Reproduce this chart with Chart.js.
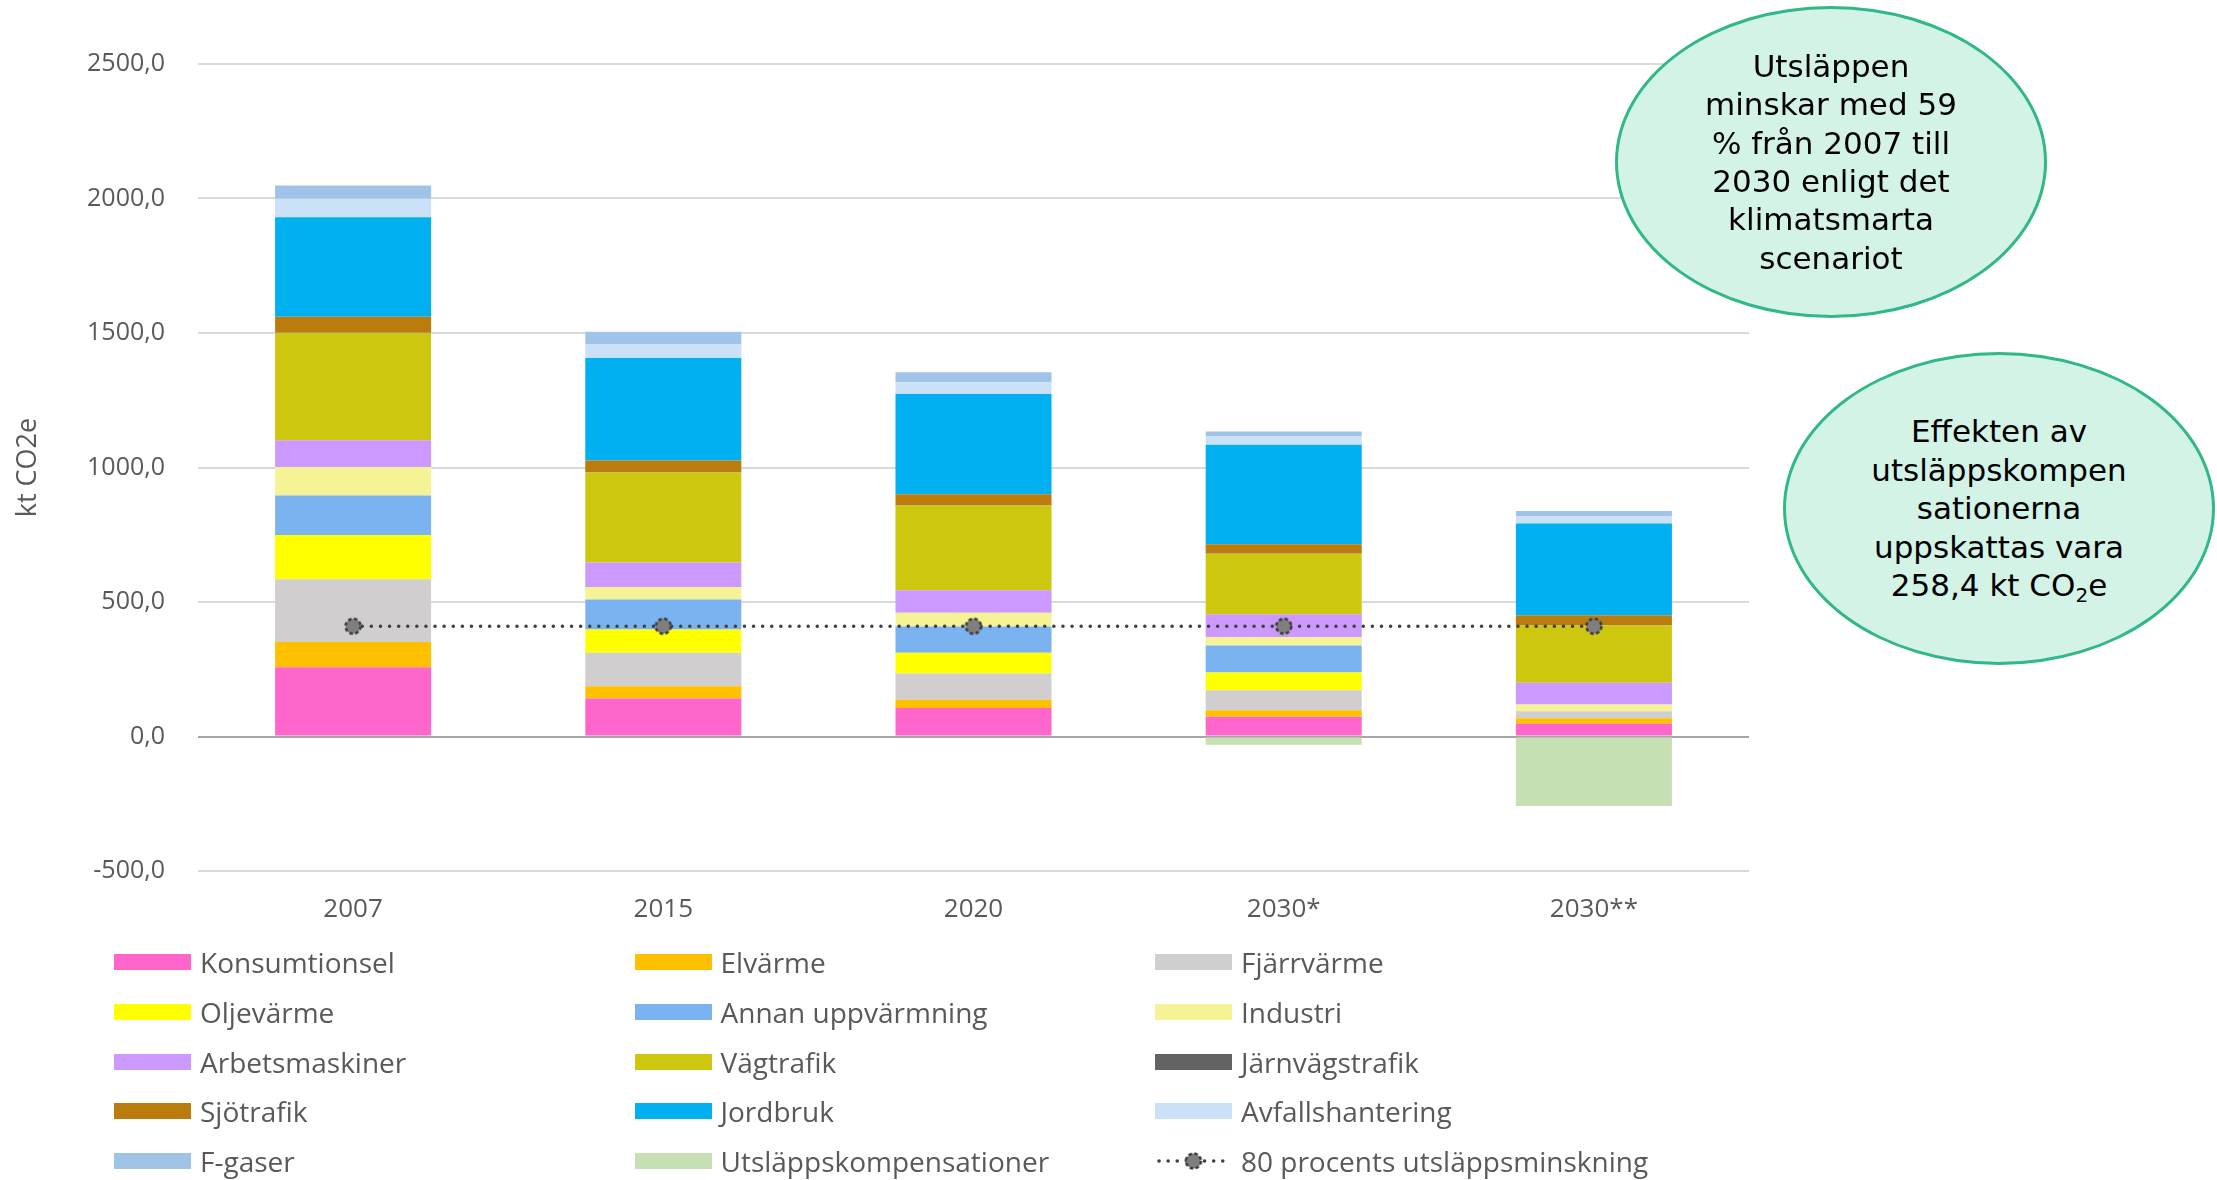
<!DOCTYPE html>
<html lang="sv">
<head>
<meta charset="utf-8">
<title>Utsläpp kt CO2e</title>
<script src="https://cdn.jsdelivr.net/npm/chart.js@4.4.1/dist/chart.umd.min.js"></script>
<style>
  html, body { margin: 0; padding: 0; background: #ffffff; }
  #wrap { position: relative; width: 2217px; height: 1180px; overflow: hidden; background: #fff; }
  #chartBox { position: absolute; left: 0; top: 0; width: 2217px; height: 1180px; }
  .ell { position: absolute; box-sizing: border-box; border: 3px solid #31b886; background: #d3f3e7;
         border-radius: 50%; display: flex; align-items: center; justify-content: center;
         text-align: center; font-family: "DejaVu Sans", Verdana, sans-serif; font-size: 31px;
         line-height: 38.4px; color: #000; }
  .ell sub { font-size: 20px; line-height: 0; vertical-align: -0.3em; }
  .lg { position: absolute; height: 40px; display: flex; align-items: center; white-space: nowrap;
        font-family: "Open Sans", sans-serif; font-size: 28px; color: #595959; }
  .sw { width: 77px; height: 16px; margin-right: 9px; flex: none; }
  .lg canvas { margin-right: 9px; flex: none; }
</style>
</head>
<body>
<div id="wrap">
  <div id="chartBox"><canvas id="c"></canvas></div>
  <div class="ell" style="left:1615px;top:6px;width:432px;height:312px;">
    <div>Utsläppen<br>minskar med 59<br>% från 2007 till<br>2030 enligt det<br>klimatsmarta<br>scenariot</div>
  </div>
  <div class="ell" style="left:1783px;top:352px;width:432px;height:313px;">
    <div>Effekten av<br>utsläppskompen<br>sationerna<br>uppskattas vara<br>258,4 kt CO<sub>2</sub>e</div>
  </div>
  <div id="legend"></div>
</div>
<script>
// ---- Data ----
const categories = ['2007', '2015', '2020', '2030*', '2030**'];
const konsumtionsel    = [257, 141, 106, 73, 47];
const elvarme          = [94, 46, 31, 25, 21];
const fjarrvarme       = [234, 124, 97, 74, 26];
const oljevarme        = [164, 87, 77, 66, 0];
const annanUppvarmning = [147, 111, 98, 100, 0];
const industri         = [106, 47, 51, 32, 25];
const arbetsmaskiner   = [99, 91, 84, 84, 81];
const vagtrafik        = [400, 334, 315, 225, 213];
const jarnvagstrafik   = [2, 1, 1, 1, 1];
const sjotrafik        = [57, 44, 41, 35, 37];
const jordbruk         = [370, 381, 372, 370, 341];
const avfallshantering = [69, 52, 44, 30, 26];
const fgaser           = [49, 46, 37, 19, 20];
const kompensationer   = [0, 0, 0, -31, -258.4];
const mal80            = [410, 410, 410, 410, 410];
const yTicks           = [-500, 0, 500, 1000, 1500, 2000, 2500];

const barSeries = [
  ['Konsumtionsel', konsumtionsel, '#ff66cc'],
  ['Elvärme', elvarme, '#ffc000'],
  ['Fjärrvärme', fjarrvarme, '#d0cece'],
  ['Oljevärme', oljevarme, '#ffff00'],
  ['Annan uppvärmning', annanUppvarmning, '#7ab3ef'],
  ['Industri', industri, '#f6f396'],
  ['Arbetsmaskiner', arbetsmaskiner, '#cc99ff'],
  ['Vägtrafik', vagtrafik, '#cec710'],
  ['Järnvägstrafik', jarnvagstrafik, '#636363'],
  ['Sjötrafik', sjotrafik, '#bb7b0d'],
  ['Jordbruk', jordbruk, '#00b0f0'],
  ['Avfallshantering', avfallshantering, '#cae1f8'],
  ['F-gaser', fgaser, '#a0c4e8'],
  ['Utsläppskompensationer', kompensationer, '#c6e0b4']
];
const lineLabel = '80 procents utsläppsminskning';

// marker image
function makeMarker() {
  const m = document.createElement('canvas');
  m.width = 22; m.height = 22;
  const g = m.getContext('2d');
  g.beginPath(); g.arc(11, 11, 7.5, 0, Math.PI * 2);
  g.fillStyle = '#7f7f7f'; g.fill();
  g.setLineDash([3.5, 2.5]); g.lineWidth = 2.5; g.strokeStyle = '#3a3a3a'; g.stroke();
  return m;
}
const marker = makeMarker();

const datasets = barSeries.map(([label, data, color]) => ({
  type: 'bar', label, data, backgroundColor: color, borderWidth: 0, stack: 'main', order: 1
}));
datasets.push({
  type: 'line', label: lineLabel, data: mal80, stack: 'target', order: 0,
  borderColor: '#404040', borderWidth: 3.5, borderDash: [0.1, 9], borderCapStyle: 'round',
  pointStyle: marker, pointRadius: 9, fill: false, tension: 0
});

const tickColor = '#595959';
new Chart(document.getElementById('c'), {
  data: { labels: categories, datasets },
  options: {
    responsive: true, maintainAspectRatio: false, animation: false,
    layout: { padding: { top: 64, right: 468, bottom: 249, left: 0 } },
    datasets: { bar: { categoryPercentage: 1.0, barPercentage: 0.503 } },
    plugins: { legend: { display: false }, tooltip: { enabled: true } },
    scales: {
      x: {
        stacked: true,
        grid: { display: false, drawTicks: false },
        border: { display: false },
        ticks: { color: tickColor, font: { family: 'Open Sans', size: 26 }, padding: 23 },
        afterFit: s => { s.height = 60; }
      },
      y: {
        stacked: true, min: -500, max: 2500,
        afterBuildTicks: s => { s.ticks = yTicks.map(v => ({ value: v })); },
        grid: {
          drawTicks: false, lineWidth: 2,
          color: c => (c.tick && c.tick.value === 0) ? '#a6a6a6' : '#d9d9d9'
        },
        border: { display: false },
        ticks: {
          color: tickColor, font: { family: 'Open Sans', size: 25 }, padding: 33,
          callback: v => v.toFixed(1).replace('.', ',')
        },
        title: {
          display: true, text: 'kt CO2e', color: tickColor,
          font: { family: 'Open Sans', size: 27 }, padding: { top: 12, bottom: 0 }
        },
        afterFit: s => { s.width = 198; }
      }
    }
  }
});

// ---- HTML legend (3 columns) ----
const legend = document.getElementById('legend');
const items = barSeries.map(([label, , color]) => ({ label, color })).concat([{ label: lineLabel, line: true }]);
items.forEach((it, i) => {
  const col = i % 3, row = Math.floor(i / 3);
  const d = document.createElement('div');
  d.className = 'lg';
  d.style.left = (114 + col * 520.5) + 'px';
  d.style.top = (962 + row * 49.8 - 20) + 'px';
  if (it.line) {
    const cv = document.createElement('canvas');
    cv.width = 77; cv.height = 22;
    const g = cv.getContext('2d');
    g.strokeStyle = '#404040'; g.lineWidth = 3.5; g.lineCap = 'round'; g.setLineDash([0.1, 9]);
    g.beginPath(); g.moveTo(4, 11); g.lineTo(73, 11); g.stroke();
    g.setLineDash([]);
    g.drawImage(marker, 27.5, 0);
    d.appendChild(cv);
  } else {
    const s = document.createElement('span');
    s.className = 'sw'; s.style.background = it.color;
    d.appendChild(s);
  }
  const t = document.createElement('span');
  t.textContent = it.label;
  d.appendChild(t);
  legend.appendChild(d);
});
</script>
</body>
</html>
